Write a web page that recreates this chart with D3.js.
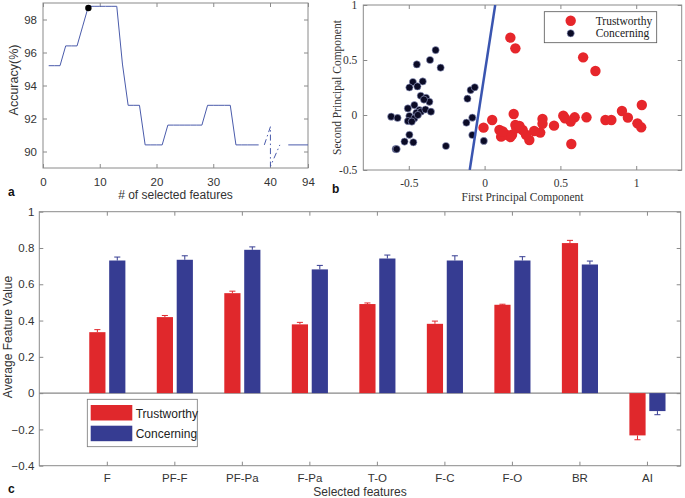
<!DOCTYPE html>
<html><head><meta charset="utf-8">
<script src="https://cdn.jsdelivr.net/npm/d3@7"></script>
<style>body{margin:0;background:#fff}svg{display:block}</style>
</head><body><svg id="chart" width="685" height="498"></svg>
<script>
// ---------- Panel a data ----------
const accFeatures = [1,2,3,4,5,6,7,8,9,10,11,12,13,14,15,16,17,18,19,20,21,22,23,24,25,26,27,28,29,30,31,32,33,34,35,36,37,38];
const accValues = [95.2,95.2,95.2,96.4,96.4,96.4,97.6,98.8,98.8,98.8,98.8,98.8,98.8,95.3,92.8,92.8,92.8,90.4,90.4,90.4,90.4,91.6,91.6,91.6,91.6,91.6,91.6,91.6,92.8,92.8,92.8,92.8,92.8,90.4,90.4,90.4,90.4,90.4];
const breakFeatures = [39,40.6,40.6,54];
const breakValues = [90.4,91.5,89.1,90.4];
const tailFeatures = [66,94];
const tailValues = [90.4,90.4];
const bestFeature = [8];
const bestAccuracy = [98.7];
const accXTicks = [0,10,20,30,40,94];
const accYTicks = [90,92,94,96,98];

// ---------- Panel b data ----------
const trustPC1 = [0.17,0.203,0.65,0.731,1.037,0.906,0.945,1.008,1.033,0.797,0.836,0.672,0.594,0.568,0.519,0.53,0.572,0.458,0.382,0.382,0.367,0.327,0.295,0.273,0.251,0.192,0.203,0.181,0.17,0.142,0.109,0.098,0.05,-0.007,0.12,0.21,0.23];
const trustPC2 = [0.703,0.606,0.524,0.40,0.091,0.036,-0.024,-0.076,-0.112,-0.045,-0.045,-0.021,-0.021,-0.06,-0.006,-0.03,-0.264,-0.097,-0.036,-0.08,-0.16,-0.145,-0.227,-0.18,-0.136,0.009,-0.09,-0.18,-0.2,-0.18,-0.197,-0.136,-0.045,-0.115,-0.15,-0.12,-0.1];
const concPC1 = [-0.323,-0.36,-0.447,-0.29,-0.473,-0.408,-0.496,-0.443,-0.421,-0.386,-0.364,-0.40,-0.463,-0.506,-0.43,-0.45,-0.42,-0.39,-0.354,-0.616,-0.574,-0.496,-0.506,-0.463,-0.48,-0.44,-0.496,-0.528,-0.47,-0.587,-0.58,-0.255,-0.113,-0.092,-0.065,-0.12,-0.081,-0.081,-0.005];
const concPC2 = [0.59,0.50,0.46,0.43,0.30,0.305,0.25,0.26,0.175,0.157,0.12,0.14,0.09,0.06,0.045,0.02,0.03,0.05,0.03,-0.015,-0.027,-0.009,-0.055,-0.03,-0.06,0.0,-0.18,-0.242,-0.248,-0.309,-0.31,-0.282,0.148,0.227,0.252,-0.07,-0.024,-0.182,-0.236];
const boundaryPC1 = [-0.098,0.07];
const boundaryPC2 = [-0.5,1];
const pcXTicks = [-0.5,0,0.5,1];
const pcYTicks = [-0.5,0,0.5,1];

// ---------- Panel c data ----------
const categories = ["F","PF-F","PF-Pa","F-Pa","T-O","F-C","F-O","BR","AI"];
const trustMean = [0.336,0.419,0.551,0.379,0.491,0.382,0.487,0.827,-0.233];
const trustErr = [0.014,0.009,0.011,0.011,0.006,0.015,0.003,0.015,0.024];
const concMean = [0.731,0.735,0.79,0.682,0.742,0.731,0.731,0.709,-0.099];
const concErr = [0.019,0.022,0.016,0.022,0.019,0.026,0.021,0.019,0.02];
const featYTicks = [-0.4,-0.2,0,0.2,0.4,0.6,0.8,1];
const seriesNames = ["Trustworthy","Concerning"];

const RED = "#e0282c", BLUE = "#363c92", FRAME = "#8a8a8a", TXT = "#333";
const SANS = "'Liberation Sans', Arial, sans-serif";
const SERIF = "'Liberation Serif', 'Times New Roman', serif";

const svg = d3.select("#chart");
svg.append("rect").attr("width",685).attr("height",498).attr("fill","#fff");

function frame(g, x, y, xt, yt, o) {
  const xr = x.range(), yr = y.range();
  const X0 = xr[0], X1 = xr[xr.length-1], Y0 = yr[0], Y1 = yr[yr.length-1];
  const ts = o.tick || 4;
  const fx = o.fmtX || (d => d), fy = o.fmtY || (d => d);
  const b = g.append("g").attr("transform",`translate(0,${Y0})`)
    .call(d3.axisBottom(x).tickValues(xt).tickSize(-ts).tickPadding(o.padX).tickFormat(fx));
  const t = g.append("g").attr("transform",`translate(0,${Y1})`)
    .call(d3.axisTop(x).tickValues(xt).tickSize(-ts).tickFormat(""));
  const l = g.append("g").attr("transform",`translate(${X0},0)`)
    .call(d3.axisLeft(y).tickValues(yt).tickSize(-ts).tickPadding(o.padY).tickFormat(fy));
  const r = g.append("g").attr("transform",`translate(${X1},0)`)
    .call(d3.axisRight(y).tickValues(yt).tickSize(-ts).tickFormat(""));
  [b,t,l,r].forEach(a => {
    a.select(".domain").remove();
    a.selectAll(".tick line").attr("stroke",FRAME);
    a.selectAll("text").attr("fill",TXT).style("font-family",o.font).style("font-size",o.size+"px");
  });
  [t,r].forEach(a => a.selectAll("text").remove());
  g.append("rect").attr("x",X0).attr("y",Y1).attr("width",X1-X0).attr("height",Y0-Y1)
    .attr("fill","none").attr("stroke",FRAME).attr("stroke-width",1);
}

// ================= Panel a =================
const ga = svg.append("g");
const xa = d3.scaleLinear().domain([0,40,94]).range([43,270,308]);
const ya = d3.scaleLinear().domain([89,99]).range([168,3]);
frame(ga, xa, ya, accXTicks, accYTicks, {padX:9.5, padY:6, font:SANS, size:11.5});
const lineA = d3.line().x(d => xa(d[0])).y(d => ya(d[1]));
ga.append("path").datum(accFeatures.map((f,i)=>[f,accValues[i]]))
  .attr("d",lineA).attr("fill","none").attr("stroke","#4a5bab").attr("stroke-width",1);
ga.append("path").datum(breakFeatures.map((f,i)=>[f,breakValues[i]]))
  .attr("d",lineA).attr("fill","none").attr("stroke","#4a5bab").attr("stroke-width",1)
  .attr("stroke-dasharray","6,3,1.5,3");
ga.append("path").datum(tailFeatures.map((f,i)=>[f,tailValues[i]]))
  .attr("d",lineA).attr("fill","none").attr("stroke","#4a5bab").attr("stroke-width",1);
ga.selectAll("circle.best").data(bestFeature.map((f,i)=>[f,bestAccuracy[i]])).enter()
  .append("circle").attr("cx",d=>xa(d[0])).attr("cy",d=>ya(d[1])).attr("r",3.2).attr("fill","#000");
ga.append("text").attr("x",175.5).attr("y",199).attr("text-anchor","middle")
  .style("font-family",SANS).style("font-size","12px").attr("fill",TXT).text("# of selected features");
ga.append("text").attr("transform","translate(18,80) rotate(-90)").attr("text-anchor","middle")
  .style("font-family",SANS).style("font-size","12.5px").attr("fill",TXT).text("Accuracy(%)");
ga.append("text").attr("x",8).attr("y",196).style("font-family",SANS).style("font-size","12px")
  .style("font-weight","bold").attr("fill","#111").text("a");

// ================= Panel b =================
const gb = svg.append("g");
const xb = d3.scaleLinear().domain([-0.8,1.3]).range([363.3,681.7]);
const yb = d3.scaleLinear().domain([-0.5,1]).range([170,5]);
frame(gb, xb, yb, pcXTicks, pcYTicks, {padX:8.5, padY:6, font:SERIF, size:11.5});
gb.append("defs").append("clipPath").attr("id","clipb").append("rect")
  .attr("x",363.3).attr("y",5).attr("width",318.4).attr("height",165);
const pb = gb.append("g").attr("clip-path","url(#clipb)");
pb.selectAll("circle.t").data(trustPC1.map((v,i)=>[v,trustPC2[i]])).enter().append("circle")
  .attr("cx",d=>xb(d[0])).attr("cy",d=>yb(d[1])).attr("r",5.2).attr("fill","#e6262b");
pb.selectAll("circle.c").data(concPC1.map((v,i)=>[v,concPC2[i]])).enter().append("circle")
  .attr("cx",d=>xb(d[0])).attr("cy",d=>yb(d[1])).attr("r",3.6).attr("fill","#0b0b26")
  .attr("stroke","#9aa2cc").attr("stroke-width",0.6);
pb.append("line").attr("x1",xb(boundaryPC1[0])).attr("y1",yb(boundaryPC2[0]))
  .attr("x2",xb(boundaryPC1[1])).attr("y2",yb(boundaryPC2[1]))
  .attr("stroke","#3a55b0").attr("stroke-width",2.5);
// legend
gb.append("rect").attr("x",544.3).attr("y",11.7).attr("width",112.4).attr("height",31)
  .attr("fill","#fff").attr("stroke","#555").attr("stroke-width",0.8);
gb.append("circle").attr("cx",570.7).attr("cy",20.7).attr("r",5.2).attr("fill","#e6262b");
gb.append("circle").attr("cx",570.7).attr("cy",33.3).attr("r",3.6).attr("fill","#0b0b26")
  .attr("stroke","#9aa2cc").attr("stroke-width",0.6);
gb.selectAll("text.leg").data(seriesNames).enter().append("text")
  .attr("x",595.7).attr("y",(d,i)=>24.7+i*12.6)
  .style("font-family",SERIF).style("font-size","11.5px").attr("fill","#222").text(d=>d);
gb.append("text").attr("x",522.5).attr("y",200.5).attr("text-anchor","middle")
  .style("font-family",SERIF).style("font-size","11.5px").attr("fill",TXT).text("First Principal Component");
gb.append("text").attr("transform","translate(341,87.5) rotate(-90)").attr("text-anchor","middle")
  .style("font-family",SERIF).style("font-size","11.5px").attr("fill",TXT).text("Second Principal Component");
gb.append("text").attr("x",332).attr("y",193).style("font-family",SANS).style("font-size","12px")
  .style("font-weight","bold").attr("fill","#111").text("b");

// ================= Panel c =================
const gc = svg.append("g");
const xc = d3.scaleLinear().domain([0,9.5]).range([39.3,680.7]);
const yc = d3.scaleLinear().domain([-0.4,1]).range([465.7,211.7]);
const catPos = categories.map((c,i)=>i+1);
frame(gc, xc, yc, catPos, featYTicks, {padX:8.5, padY:5, font:SANS, size:11.5,
  fmtX: d => categories[d-1], fmtY: d => d3.format("")(+d.toFixed(1))});
gc.append("line").attr("x1",xc(0)).attr("x2",xc(9.5)).attr("y1",yc(0)).attr("y2",yc(0))
  .attr("stroke","#888").attr("stroke-width",1.2);
const series = [
  {mean:trustMean, err:trustErr, color:RED, lo:-0.26, hi:-0.02},
  {mean:concMean, err:concErr, color:BLUE, lo:0.035, hi:0.275}
];
series.forEach(s => {
  const data = categories.map((c,i)=>({p:i+1, v:s.mean[i], e:s.err[i]}));
  gc.selectAll(null).data(data).enter().append("rect")
    .attr("x",d=>xc(d.p+s.lo)).attr("width",d=>xc(d.p+s.hi)-xc(d.p+s.lo))
    .attr("y",d=>yc(Math.max(0,d.v))).attr("height",d=>Math.abs(yc(d.v)-yc(0)))
    .attr("fill",s.color);
  const mid = (s.lo+s.hi)/2;
  const eb = gc.selectAll(null).data(data).enter().append("g");
  eb.append("line").attr("x1",d=>xc(d.p+mid)).attr("x2",d=>xc(d.p+mid))
    .attr("y1",d=>yc(d.v)).attr("y2",d=>yc(d.v + Math.sign(d.v)*d.e))
    .attr("stroke",s.color).attr("stroke-width",1);
  eb.append("line").attr("x1",d=>xc(d.p+mid-0.045)).attr("x2",d=>xc(d.p+mid+0.045))
    .attr("y1",d=>yc(d.v + Math.sign(d.v)*d.e)).attr("y2",d=>yc(d.v + Math.sign(d.v)*d.e))
    .attr("stroke",s.color).attr("stroke-width",1);
});
// legend
gc.append("rect").attr("x",87.3).attr("y",399.3).attr("width",110).attr("height",47.4)
  .attr("fill","#fff").attr("stroke","#777").attr("stroke-width",0.8);
gc.selectAll("rect.sw").data(seriesNames).enter().append("rect")
  .attr("x",90.7).attr("y",(d,i)=>405+i*20.7).attr("width",41.6).attr("height",15.5)
  .attr("fill",(d,i)=>i===0?RED:BLUE);
gc.selectAll("text.lg").data(seriesNames).enter().append("text")
  .attr("x",135.7).attr("y",(d,i)=>417.5+i*20.7)
  .style("font-family",SANS).style("font-size","12px").attr("fill","#222").text(d=>d);
gc.append("text").attr("x",360).attr("y",496).attr("text-anchor","middle")
  .style("font-family",SANS).style("font-size","12px").attr("fill",TXT).text("Selected features");
gc.append("text").attr("transform","translate(12,337) rotate(-90)").attr("text-anchor","middle")
  .style("font-family",SANS).style("font-size","12px").attr("fill",TXT).text("Average Feature Value");
gc.append("text").attr("x",8).attr("y",493).style("font-family",SANS).style("font-size","12px")
  .style("font-weight","bold").attr("fill","#111").text("c");
</script></body></html>
